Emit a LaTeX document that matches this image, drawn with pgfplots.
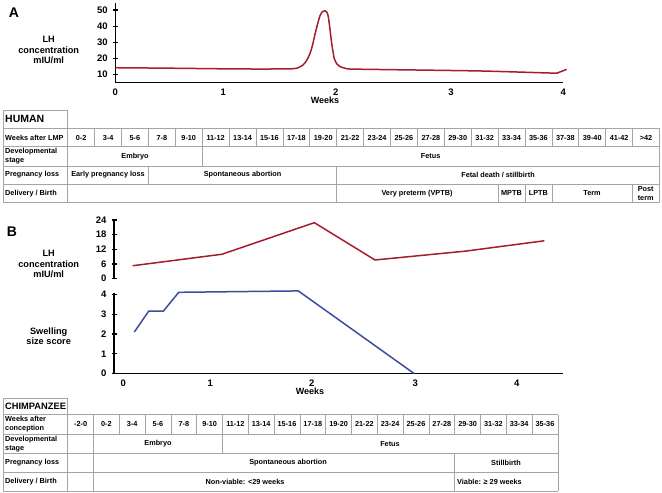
\documentclass[border=0pt]{standalone}
\usepackage{fontspec}
\setmainfont{Liberation Sans}
\usepackage{pgfplots}
\pgfplotsset{compat=1.18}
\definecolor{lhred}{RGB}{165,28,48}
\definecolor{swblue}{RGB}{61,76,158}
\definecolor{gridc}{RGB}{165,165,165}
\newcommand{\tf}{\bfseries\fontsize{7.3}{8.8}\selectfont}
\newcommand{\lf}{\bfseries\fontsize{9.2}{10.5}\selectfont}
\begin{document}
\begin{tikzpicture}
\path[use as bounding box] (0pt,0pt) rectangle (662pt,-493pt);
\pgfplotsset{myax/.style={scale only axis,
  tick label style={font=\bfseries\fontsize{9.5}{10}\selectfont},
  yticklabel style={xshift=-1.5pt},
  /pgf/number format/assume math mode=true,
  tick align=outside, major tick length=5pt,
  y tick style={line width=1.2pt,black},
  x tick style={draw=none},
  clip=false,
  every axis plot/.append style={line width=1.5pt}},
  noarrow/.style={axis line style={-,line width=1.4pt}}}

% ---------------- Panel A ----------------
\begin{axis}[myax, at={(115.3pt,-82.7pt)}, anchor=south west,
  width=448pt, height=79.4pt,
  xmin=0, xmax=4, ymin=5.05, ymax=54.1,
  axis x line=bottom, axis y line=left, noarrow,
  xtick={0,0.964,1.968,2.997,4}, xticklabels={0,1,2,3,4},
  ytick={10,20,30,40,50}]
\addplot[lhred, smooth, tension=0.4] coordinates {
(0,14.3) (0.5,14.0) (1.0,13.6) (1.3,13.5) (1.55,13.6) (1.62,14.0)
(1.676,16) (1.71,19) (1.738,23) (1.76,28) (1.783,35) (1.805,41)
(1.828,46.5) (1.85,49) (1.873,49.5) (1.89,48.5) (1.902,45.8)
(1.917,38) (1.932,29.4) (1.955,20) (1.98,16.5) (2.006,15)
(2.05,14) (2.096,13.5) (2.363,13.2) (3.256,12.3) (3.90,11.0)
(3.95,11.2) (4.03,13.3)};
\end{axis}

% ---------------- Panel B upper ----------------
\begin{axis}[myax, at={(114pt,-278.7pt)}, anchor=south west,
  width=449.3pt, height=59.7pt,
  xmin=-0.01, xmax=4.5, ymin=0, ymax=24.4,
  axis x line=none, axis y line=left, noarrow,
  ytick={0,6,12,18,24}]
\addplot[lhred] coordinates {
(0.178,5.3) (1.074,10.0) (2.001,22.9) (2.610,7.65) (3.524,11.3) (4.310,15.5)};
\end{axis}

% ---------------- Panel B lower ----------------
\begin{axis}[myax, at={(114pt,-373.7pt)}, anchor=south west,
  width=449.3pt, height=80.4pt,
  xmin=-0.01, xmax=4.5, ymin=0, ymax=4.05,
  axis x line=bottom, axis y line=left, noarrow,
  xtick={0.083,0.957,1.975,3.015,4.033}, xticklabels={0,1,2,3,4},
  ytick={0,1,2,3,4}]
\addplot[swblue] coordinates {
(0.194,2.1) (0.338,3.15) (0.485,3.15) (0.640,4.1) (1.840,4.17) (3.005,0)};
\end{axis}

\begin{scope}[x=1pt,y=-1pt]
% labels of plots
\node[font=\bfseries\fontsize{14}{14}\selectfont] at (14,13) {A};
\node[font=\lf, align=center] at (48.7,50) {LH\\concentration\\mIU/ml};
\node[font=\bfseries\fontsize{9}{10}\selectfont] at (325,100) {Weeks};
\node[font=\bfseries\fontsize{14}{14}\selectfont] at (12,231.5) {B};
\node[font=\lf, align=center] at (48.7,264.3) {LH\\concentration\\mIU/ml};
\node[font=\lf, align=center] at (48.7,336.3) {Swelling\\size score};
\node[font=\bfseries\fontsize{9}{10}\selectfont] at (310,391) {Weeks};

% ---------------- HUMAN table ----------------
\begin{scope}[draw=gridc, line width=0.8pt]
\draw (3,110) rectangle (67.7,128.3);
\foreach \yy in {128.3,146.7,166,184,202.3} \draw (3,\yy) -- (659.5,\yy);
\draw (3,110) -- (3,202.3);
\draw (67.7,110) -- (67.7,202.3);
\draw (659.5,128.3) -- (659.5,202.3);
\foreach \k in {1,...,21} \draw ({67.7+\k*26.9},128.3) -- ({67.7+\k*26.9},146.7);
\foreach \k in {5} \draw ({67.7+\k*26.9},146.7) -- ({67.7+\k*26.9},166);
\foreach \k in {3,10} \draw ({67.7+\k*26.9},166) -- ({67.7+\k*26.9},184);
\foreach \k in {10,16,17,18,21} \draw ({67.7+\k*26.9},184) -- ({67.7+\k*26.9},202.3);
\end{scope}
\node[font=\bfseries\fontsize{10.5}{11}\selectfont, anchor=west, inner sep=0] at (5,119.2) {HUMAN};
\node[font=\tf, anchor=west, inner sep=0] at (5,137.5) {Weeks after LMP};
\node[font=\tf, anchor=west, inner sep=0, align=left] at (5,156.3) {Developmental\\stage};
\node[font=\tf, anchor=west, inner sep=0] at (5,175) {Pregnancy loss};
\node[font=\tf, anchor=west, inner sep=0] at (5,193.2) {Delivery / Birth};
\foreach \t [count=\i from 0] in {0-2,3-4,5-6,7-8,9-10,11-12,13-14,15-16,17-18,19-20,21-22,23-24,25-26,27-28,29-30,31-32,33-34,35-36,37-38,39-40,41-42,>42}
  \node[font=\tf] at ({67.7+(\i+0.5)*26.9},137.5) {\t};
\node[font=\tf] at (135,156.3) {Embryo};
\node[font=\tf] at (430.6,156.3) {Fetus};
\node[font=\tf] at (108,175) {Early pregnancy loss};
\node[font=\tf] at (242.5,175) {Spontaneous abortion};
\node[font=\tf] at (498,175) {Fetal death / stillbirth};
\node[font=\tf] at (417,193.2) {Very preterm (VPTB)};
\node[font=\tf] at (511.5,193.2) {MPTB};
\node[font=\tf] at (538.4,193.2) {LPTB};
\node[font=\tf] at (592,193.2) {Term};
\node[font=\tf, align=center] at (645.7,193.2) {Post\\term};

% ---------------- CHIMPANZEE table ----------------
\begin{scope}[draw=gridc, line width=0.8pt]
\draw (3,398.3) rectangle (67.7,414.5);
\foreach \yy in {414.5,434.3,453.3,472.3,491} \draw (3,\yy) -- (557.9,\yy);
\draw (3,398.3) -- (3,491);
\draw (67.7,398.3) -- (67.7,491);
\draw (557.9,414.5) -- (557.9,491);
\foreach \k in {1,...,18} \draw ({67.7+\k*25.8},414.5) -- ({67.7+\k*25.8},434.3);
\foreach \k in {1,6} \draw ({67.7+\k*25.8},434.3) -- ({67.7+\k*25.8},453.3);
\foreach \k in {1,15} \draw ({67.7+\k*25.8},453.3) -- ({67.7+\k*25.8},491);
\end{scope}
\node[font=\bfseries\fontsize{9.3}{10}\selectfont, anchor=west, inner sep=0] at (5,406.4) {CHIMPANZEE};
\node[font=\tf, anchor=west, inner sep=0, align=left] at (5,424.4) {Weeks after\\conception};
\node[font=\tf, anchor=west, inner sep=0, align=left] at (5,443.8) {Developmental\\stage};
\node[font=\tf, anchor=west, inner sep=0] at (5,462.8) {Pregnancy loss};
\node[font=\tf, anchor=west, inner sep=0] at (5,481.6) {Delivery / Birth};
\foreach \t [count=\i from 0] in {-2-0,0-2,3-4,5-6,7-8,9-10,11-12,13-14,15-16,17-18,19-20,21-22,23-24,25-26,27-28,29-30,31-32,33-34,35-36}
  \node[font=\tf] at ({67.7+(\i+0.5)*25.8},424.4) {\t};
\node[font=\tf] at (158,443.8) {Embryo};
\node[font=\tf] at (390,443.8) {Fetus};
\node[font=\tf] at (288,462.8) {Spontaneous abortion};
\node[font=\tf] at (506,462.8) {Stillbirth};
\node[font=\tf] at (245,481.6) {Non-viable: <29 weeks};
\node[font=\tf, anchor=west, inner sep=0] at (457,481.6) {Viable: ≥ 29 weeks};
\end{scope}
\end{tikzpicture}
\end{document}
